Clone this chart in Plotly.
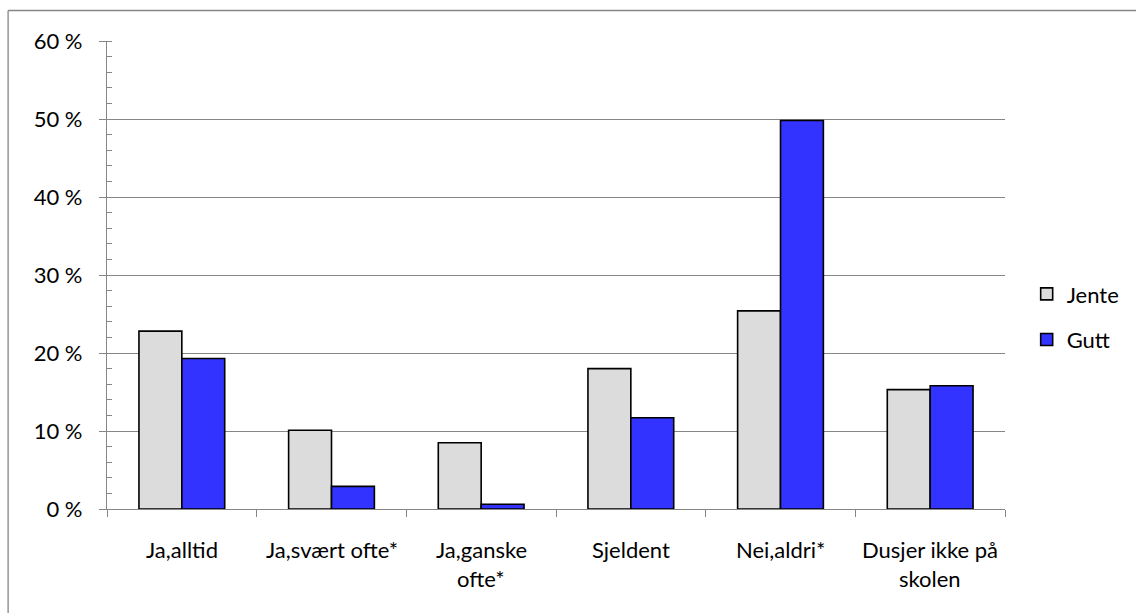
import plotly.graph_objects as go

# Survey answers (share of pupils, %)
categories = ["Ja,alltid", "Ja,svært ofte*", "Ja,ganske ofte*", "Sjeldent", "Nei,aldri*", "Dusjer ikke på skolen"]
label_lines = [["Ja,alltid"], ["Ja,svært ofte*"], ["Ja,ganske", "ofte*"], ["Sjeldent"], ["Nei,aldri*"], ["Dusjer ikke på", "skolen"]]
jente = [22.8, 10.1, 8.5, 18.0, 25.4, 15.3]
gutt = [19.3, 2.9, 0.6, 11.7, 49.8, 15.8]
y_ticks = [0, 10, 20, 30, 40, 50, 60]
y_tick_labels = ["0 %", "10 %", "20 %", "30 %", "40 %", "50 %", "60 %"]

FONT = "Lato"
FSIZE = 22
GRID = "#868686"
W, H = 1136, 613
L, R, T, B = 107, 130, 41, 104
pw, ph = W - L - R, H - T - B

fig = go.Figure()
fig.add_trace(go.Bar(name="Jente", x=categories, y=jente, legendgroup="a",
                     marker=dict(color="#DCDCDC", line=dict(color="black", width=1.6))))
fig.add_trace(go.Bar(name="Gutt", x=categories, y=gutt, legendgroup="b",
                     marker=dict(color="#3333FF", line=dict(color="black", width=1.6))))

# category labels, two-line ones with wide line spacing
annotations = []
for cat, lines in zip(categories, label_lines):
    for i, line in enumerate(lines):
        annotations.append(dict(x=cat, xref="x", y=0, yref="paper", text=line, showarrow=False,
                                xanchor="center", yanchor="middle", yshift=-40 - 29 * i,
                                font=dict(family=FONT, size=FSIZE, color="black")))

# outer chart frame (left and top edges)
fx = (8 - L) / pw
fy = 1 + (T - 10.5) / ph
shapes = [
    dict(type="line", xref="paper", yref="paper", x0=fx, x1=fx, y0=fy, y1=-1, line=dict(color=GRID, width=1.3)),
    dict(type="line", xref="paper", yref="paper", x0=fx, x1=1.5, y0=fy, y1=fy, line=dict(color=GRID, width=1.3)),
]

fig.update_layout(
    width=W, height=H,
    margin=dict(l=L, r=R, t=T, b=B),
    paper_bgcolor="white", plot_bgcolor="white",
    barmode="group", bargap=0.427, bargroupgap=0,
    font=dict(family=FONT, size=FSIZE, color="black"),
    showlegend=True,
    legend=dict(x=1.023, xanchor="left", xref="paper", y=0.41, yanchor="middle",
                font=dict(family=FONT, size=FSIZE), tracegroupgap=14, itemclick=False,
                bgcolor="rgba(0,0,0,0)"),
    annotations=annotations,
    shapes=shapes,
)
fig.update_xaxes(
    type="category", showgrid=False, showline=True, linecolor=GRID, linewidth=1.3,
    ticks="outside", tickson="boundaries", ticklen=7, tickcolor=GRID, tickwidth=1.3,
    showticklabels=False, fixedrange=True,
)
fig.update_yaxes(
    range=[0, 60], tickmode="array", tickvals=y_ticks, ticktext=y_tick_labels,
    showgrid=True, gridcolor=GRID, gridwidth=1.3,
    showline=True, linecolor=GRID, linewidth=1.3,
    ticks="outside", ticklen=7, tickcolor=GRID, tickwidth=1.3,
    minor=dict(dtick=2, ticks="inside", ticklen=5, tickcolor=GRID, tickwidth=1.3, showgrid=False),
    zeroline=False, ticklabelstandoff=12, fixedrange=True,
    tickfont=dict(family=FONT, size=FSIZE),
)

fig.write_html("out.html", config={"displayModeBar": False})
